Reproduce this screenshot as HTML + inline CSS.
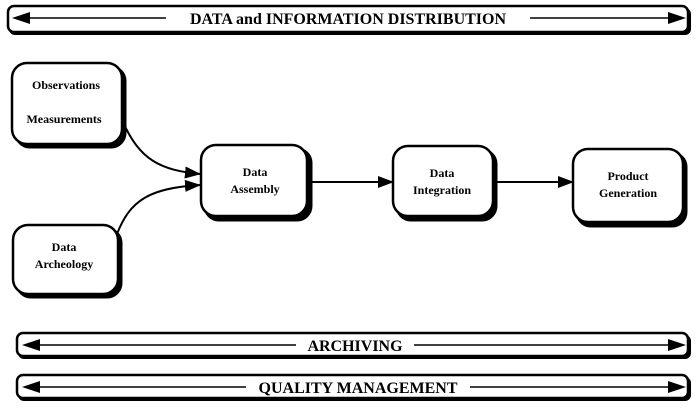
<!DOCTYPE html>
<html><head><style>
html,body{margin:0;padding:0;background:#fff;}
svg text{font-family:"Liberation Serif",serif;font-weight:bold;fill:#000;}
</style></head><body>
<svg width="700" height="412" viewBox="0 0 700 412" xmlns="http://www.w3.org/2000/svg">
<defs>
<marker id="ah" markerWidth="16" markerHeight="12" refX="15" refY="6" orient="auto" markerUnits="userSpaceOnUse"><path d="M0,0 L16,6 L0,12 z" fill="#000"/></marker>
</defs>
<!-- bars -->
<g>
<rect x="9" y="8" width="682" height="27" rx="6" fill="#000"/>
<rect x="8" y="6" width="680" height="26" rx="6" fill="#fff" stroke="#000" stroke-width="2.5"/>
<rect x="18" y="335" width="673" height="24" rx="6" fill="#000"/>
<rect x="17" y="333" width="671" height="23" rx="6" fill="#fff" stroke="#000" stroke-width="2.5"/>
<rect x="18" y="377" width="673" height="24" rx="6" fill="#000"/>
<rect x="17" y="375" width="671" height="23" rx="6" fill="#fff" stroke="#000" stroke-width="2.5"/>
</g>
<g fill="none" stroke="#000" stroke-width="1.5">
<line x1="22" y1="18" x2="166" y2="18"/>
<line x1="530" y1="18" x2="670" y2="18"/>
<line x1="30" y1="345" x2="296" y2="345"/>
<line x1="414" y1="345" x2="672" y2="345"/>
<line x1="30" y1="387" x2="246" y2="387"/>
<line x1="470" y1="387" x2="672" y2="387"/>
</g>
<g fill="#000">
<path d="M12,18 L30,12 L30,24 z"/><path d="M686,18 L668,12 L668,24 z"/>
<path d="M22,345 L40,339 L40,351 z"/><path d="M686,345 L668,339 L668,351 z"/>
<path d="M22,387 L40,381 L40,393 z"/><path d="M686,387 L668,381 L668,393 z"/>
</g>
<!-- boxes: shadow then box -->
<g stroke="#000">
<rect x="15" y="66" width="111" height="82" rx="15" fill="#000"/>
<rect x="12" y="63" width="110" height="81" rx="15" fill="#fff" stroke-width="2.5"/>
<rect x="16" y="228" width="106" height="70" rx="15" fill="#000"/>
<rect x="13" y="225" width="105" height="69" rx="15" fill="#fff" stroke-width="2.5"/>
<rect x="204" y="148" width="108" height="73" rx="15" fill="#000"/>
<rect x="201" y="145" width="106" height="71" rx="15" fill="#fff" stroke-width="2.5"/>
<rect x="396" y="149" width="101" height="72" rx="15" fill="#000"/>
<rect x="393" y="146" width="100" height="70" rx="15" fill="#fff" stroke-width="2.5"/>
<rect x="576" y="152" width="111" height="75" rx="15" fill="#000"/>
<rect x="573" y="149" width="110" height="73" rx="15" fill="#fff" stroke-width="2.5"/>
</g>
<g fill="none" stroke="#000" stroke-width="2">
<path d="M123,122 C140,160 160,170 200,174" marker-end="url(#ah)"/>
<path d="M117,234 C130,200 150,188 200,185" marker-end="url(#ah)"/>
<line x1="312" y1="182" x2="393" y2="182" marker-end="url(#ah)"/>
<line x1="497" y1="182" x2="573" y2="182" marker-end="url(#ah)"/>
</g>
<text x="348" y="24" font-size="16" text-anchor="middle">DATA and INFORMATION DISTRIBUTION</text>
<text x="355" y="351" font-size="16" text-anchor="middle">ARCHIVING</text>
<text x="358" y="393" font-size="16" text-anchor="middle">QUALITY MANAGEMENT</text>
<g font-size="12" text-anchor="middle">
<text x="66" y="89">Observations</text>
<text x="64" y="123">Measurements</text>
<text x="64" y="251">Data</text>
<text x="64" y="268">Archeology</text>
<text x="255" y="176">Data</text>
<text x="255" y="193">Assembly</text>
<text x="442" y="177">Data</text>
<text x="442" y="194">Integration</text>
<text x="628" y="180">Product</text>
<text x="628" y="197">Generation</text>
</g>
</svg>
</body></html>
